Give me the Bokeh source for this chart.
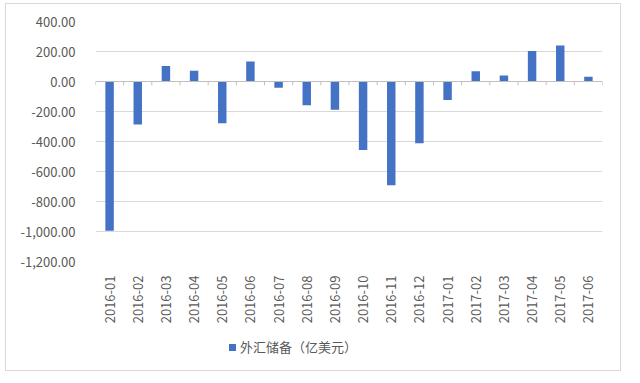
from bokeh.plotting import figure
from bokeh.models import (FixedTicker, NumeralTickFormatter, Span, Div,
                          ColumnDataSource, Range1d)
from bokeh.layouts import column
from bokeh.embed import file_html
from bokeh.resources import INLINE
import math

months = ["2016-01", "2016-02", "2016-03", "2016-04", "2016-05", "2016-06",
          "2016-07", "2016-08", "2016-09", "2016-10", "2016-11", "2016-12",
          "2017-01", "2017-02", "2017-03", "2017-04", "2017-05", "2017-06"]
reserves_change = [-995, -286, 103, 71, -279, 134, -41, -159, -188, -457, -691, -411,
                   -123, 69, 40, 204, 240, 32]
y_ticks = [-1200, -1000, -800, -600, -400, -200, 0, 200, 400]
series_name = "外汇储备（亿美元）"

BLUE = "#4472C4"
GRAY_TXT = "#595959"
GRID = "#d9d9d9"
FONT = "Noto Sans CJK SC"

xpos = [i + 0.5 for i in range(len(months))]
src = ColumnDataSource(dict(x=xpos, top=reserves_change, m=months))

p = figure(width=614, height=333, output_backend="svg", toolbar_location=None,
           x_range=Range1d(0, len(months)), y_range=Range1d(y_ticks[0], y_ticks[-1]),
           min_border_left=89, min_border_right=18, min_border_top=17, min_border_bottom=76)
p.outline_line_color = None
p.background_fill_color = "white"
p.border_fill_color = "white"

r = p.vbar(x="x", top="top", bottom=0, width=0.3, source=src, fill_color=BLUE,
           line_color=None)

# zero axis line with small ticks at category boundaries
p.add_layout(Span(location=0, dimension="width", line_color="#bfbfbf", line_width=1))
bx = list(range(len(months) + 1))
p.segment(x0=bx, x1=bx, y0=[0] * len(bx), y1=[-25] * len(bx), line_color="#bfbfbf", line_width=1)

p.yaxis.ticker = FixedTicker(ticks=y_ticks)
p.yaxis.formatter = NumeralTickFormatter(format="0,0.00")
p.yaxis.axis_line_color = None
p.yaxis.major_tick_line_color = None
p.yaxis.minor_tick_line_color = None
p.yaxis.major_label_standoff = 14
p.yaxis.major_label_text_font = FONT
p.yaxis.major_label_text_font_size = "13px"
p.yaxis.major_label_text_color = GRAY_TXT

p.xaxis.ticker = FixedTicker(ticks=xpos)
p.xaxis.major_label_overrides = {x: m for x, m in zip(xpos, months)}
p.xaxis.major_label_orientation = math.pi / 2
p.xaxis.axis_line_color = None
p.xaxis.major_tick_line_color = None
p.xaxis.minor_tick_line_color = None
p.xaxis.major_label_standoff = 8
p.xaxis.major_label_text_font = FONT
p.xaxis.major_label_text_font_size = "13px"
p.xaxis.major_label_text_color = GRAY_TXT

p.xgrid.grid_line_color = None
p.ygrid.grid_line_color = GRID
p.ygrid.ticker = FixedTicker(ticks=y_ticks)

legend_html = (
    f'<div style="padding-left:223px;font-family:\'{FONT}\';font-size:13px;'
    f'line-height:20px;color:{GRAY_TXT};white-space:nowrap;">'
    f'<span style="display:inline-block;width:7px;height:7px;background:{BLUE};'
    f'margin-right:4px;vertical-align:middle;position:relative;top:-1px;"></span>'
    f'{series_name}</div>'
)
leg = Div(text=legend_html, width=614, height=33, margin=(0, 0, 0, 0),
          styles={"background": "white"})

layout = column(p, leg, spacing=0)
layout.margin = (3, 0, 0, 5)
layout.styles = {"border": "1px solid #d9d9d9", "background": "white"}

open("out.html", "w").write(file_html(layout, INLINE))
